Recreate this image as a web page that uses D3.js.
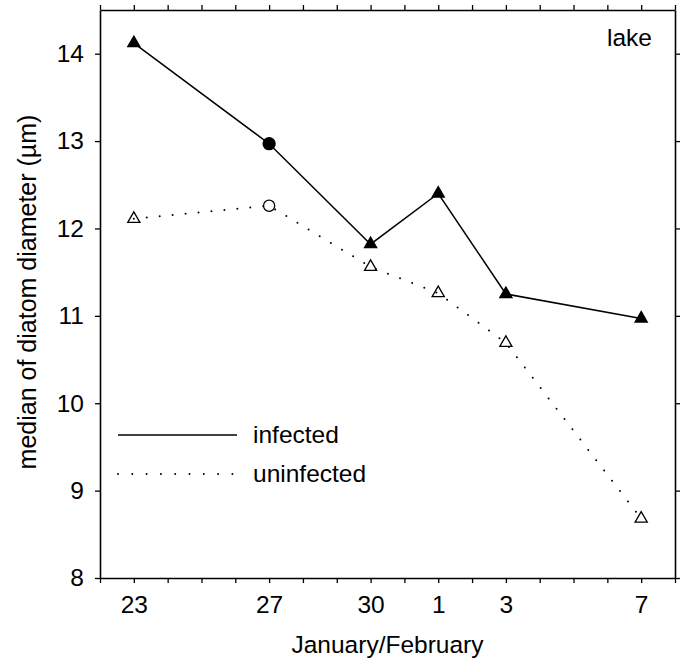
<!DOCTYPE html>
<html>
<head>
<meta charset="utf-8">
<script src="https://cdn.jsdelivr.net/npm/d3@7"></script>
<style>
  body { margin: 0; background: #fff; }
  svg text { font-family: "Liberation Sans", Arial, sans-serif; fill: #000; }
</style>
</head>
<body>
<div id="chart"></div>
<script>
// sampling days (day of year) and their printed labels
const days = [23, 27, 30, 32, 34, 38];
const dayLabels = ['23', '27', '30', '1', '3', '7'];
const circleDay = 27;

// median diameters (µm)
const infected = [14.12, 12.97, 11.82, 12.40, 11.25, 10.97];
const uninfected = [12.11, 12.26, 11.56, 11.26, 10.69, 8.68];

const yTicks = [8, 9, 10, 11, 12, 13, 14];

const width = 681, height = 663;
const plotLeft = 100, plotRight = 675, plotTop = 10, plotBottom = 578;

const svg = d3.select('#chart').append('svg')
  .attr('width', width)
  .attr('height', height);

const x = d3.scaleLinear().domain([22, 39]).range([plotLeft, plotRight]);
const y = d3.scaleLinear().domain([8, 14.5]).range([plotBottom, plotTop]);

const allDays = d3.range(22, 40);
const labelFor = d => {
  const i = days.indexOf(d);
  return i < 0 ? '' : dayLabels[i];
};

// axes on all four sides, ticks outward
const fontSize = 24.5;
svg.append('g')
  .attr('transform', `translate(0,${plotBottom})`)
  .call(d3.axisBottom(x).tickValues(allDays).tickFormat(labelFor).tickSizeInner(5).tickSizeOuter(0).tickPadding(13));
svg.append('g')
  .attr('transform', `translate(0,${plotTop})`)
  .call(d3.axisTop(x).tickValues(allDays).tickFormat('').tickSizeInner(5).tickSizeOuter(0));
svg.append('g')
  .attr('transform', `translate(${plotLeft},0)`)
  .call(d3.axisLeft(y).tickValues(yTicks).tickFormat(d3.format('d')).tickSizeInner(5).tickSizeOuter(0).tickPadding(11));
svg.append('g')
  .attr('transform', `translate(${plotRight},0)`)
  .call(d3.axisRight(y).tickValues(yTicks).tickFormat('').tickSizeInner(5).tickSizeOuter(0));

svg.selectAll('.domain').attr('stroke', '#000').attr('stroke-width', 1.6);
svg.selectAll('.tick line').attr('stroke', '#000').attr('stroke-width', 1.3);
svg.selectAll('.tick text')
  .style('font-family', '"Liberation Sans", Arial, sans-serif')
  .style('font-size', fontSize + 'px')
  .attr('fill', '#000');

// axis titles
svg.append('text')
  .attr('x', (plotLeft + plotRight) / 2)
  .attr('y', 653)
  .attr('text-anchor', 'middle')
  .style('font-size', '24.5px')
  .text('January/February');

svg.append('text')
  .attr('transform', 'translate(36,292) rotate(-90)')
  .attr('text-anchor', 'middle')
  .style('font-size', '25px')
  .text('median of diatom diameter (µm)');

svg.append('text')
  .attr('x', 652)
  .attr('y', 46)
  .attr('text-anchor', 'end')
  .style('font-size', fontSize + 'px')
  .text('lake');

// series lines
const line = d3.line()
  .x(d => x(d[0]))
  .y(d => y(d[1]));

const infPts = days.map((d, i) => [d, infected[i]]);
const uninfPts = days.map((d, i) => [d, uninfected[i]]);

svg.append('path')
  .datum(uninfPts)
  .attr('d', line)
  .attr('fill', 'none')
  .attr('stroke', '#000')
  .attr('stroke-width', 2)
  .attr('stroke-linecap', 'round')
  .attr('stroke-dasharray', '0,13');

svg.append('path')
  .datum(infPts)
  .attr('d', line)
  .attr('fill', 'none')
  .attr('stroke', '#000')
  .attr('stroke-width', 1.5);

// markers
const tri = d3.symbol().type(d3.symbolTriangle).size(64);

function drawMarkers(pts, filled) {
  const g = svg.append('g');
  pts.forEach(p => {
    if (p[0] === circleDay) {
      g.append('circle')
        .attr('cx', x(p[0]))
        .attr('cy', y(p[1]))
        .attr('r', filled ? 6 : 5.6)
        .attr('fill', filled ? '#000' : 'none')
        .attr('stroke', '#000')
        .attr('stroke-width', 1.3);
    } else {
      g.append('path')
        .attr('d', tri)
        .attr('transform', `translate(${x(p[0])},${y(p[1])})`)
        .attr('fill', filled ? '#000' : 'none')
        .attr('stroke', '#000')
        .attr('stroke-width', 1.3);
    }
  });
}
drawMarkers(uninfPts, false);
drawMarkers(infPts, true);

// legend
const legend = svg.append('g');
legend.append('line')
  .attr('x1', 118).attr('x2', 237).attr('y1', 435).attr('y2', 435)
  .attr('stroke', '#000').attr('stroke-width', 1.5);
legend.append('text')
  .attr('x', 253).attr('y', 443)
  .style('font-size', fontSize + 'px')
  .text('infected');
legend.append('line')
  .attr('x1', 118).attr('x2', 237).attr('y1', 474).attr('y2', 474)
  .attr('stroke', '#000').attr('stroke-width', 2)
  .attr('stroke-linecap', 'round')
  .attr('stroke-dasharray', '0,14.3');
legend.append('text')
  .attr('x', 253).attr('y', 482)
  .style('font-size', fontSize + 'px')
  .text('uninfected');
</script>
</body>
</html>
